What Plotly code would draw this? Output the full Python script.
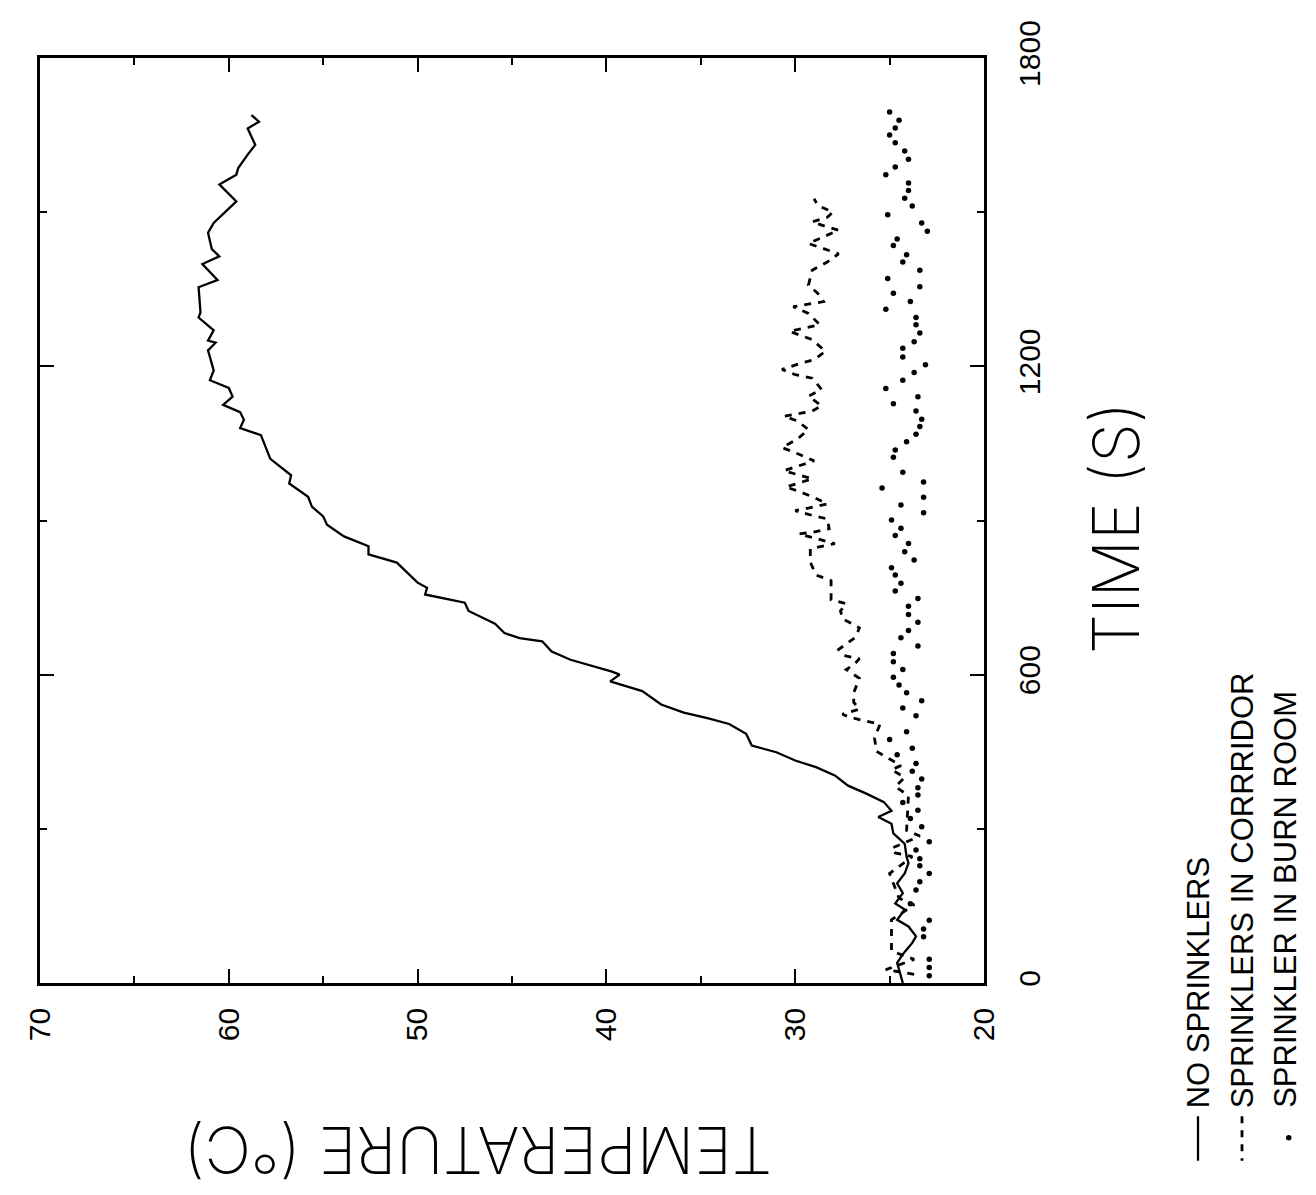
import plotly.graph_objects as go

# ---- data (time in s, temperature in deg C) ----
no_spr_time = [0, 14, 39, 56, 78, 91, 110, 123, 143, 155, 175, 194, 213, 233, 246, 271, 291, 310, 323, 335,
               352, 368, 384, 404, 420, 433, 449, 462, 485, 504, 515, 526, 542, 568, 587, 600, 606, 629, 645,
               665, 671, 681, 699, 724, 740, 756, 769, 779, 818, 834, 850, 869, 892, 908, 927, 946, 972, 988,
               1020, 1066, 1080, 1096, 1111, 1125, 1141, 1158, 1173, 1192, 1231, 1246, 1250, 1270, 1295, 1305,
               1354, 1368, 1399, 1414, 1428, 1460, 1479, 1521, 1554, 1573, 1586, 1612, 1631, 1663, 1676, 1689]
no_spr_temp = [24.3, 24.4, 24.6, 24.3, 23.8, 23.6, 24.0, 24.6, 24.2, 24.7, 24.3, 24.6, 24.2, 24.0, 24.1, 24.2,
               24.8, 24.9, 25.6, 24.9, 25.3, 26.2, 27.2, 27.9, 28.9, 30.0, 31.0, 32.3, 32.6, 33.5, 34.6, 35.9,
               37.1, 38.1, 39.8, 39.3, 39.7, 41.9, 42.9, 43.4, 44.6, 45.4, 45.9, 47.3, 47.5, 49.6, 49.5, 50.0,
               51.1, 52.6, 52.6, 53.9, 54.8, 55.0, 55.6, 55.8, 56.8, 56.7, 57.8, 58.3, 59.4, 59.2, 59.4, 60.3,
               59.8, 60.0, 61.0, 60.8, 61.1, 60.7, 61.1, 60.8, 61.6, 61.5, 61.6, 60.6, 61.4, 60.5, 60.9, 61.1,
               60.8, 59.6, 60.5, 59.6, 59.5, 59.0, 58.6, 59.0, 58.4, 58.8]

corridor_time = [17, 26, 46, 62, 123, 152, 165, 213, 246, 253, 262, 286, 297, 365, 382, 400, 415, 423, 438,
                 451, 477, 504, 510, 517, 523, 533, 546, 565, 593, 610, 619, 631, 637, 649, 673, 691, 709, 724,
                 738, 746, 767, 783, 794, 819, 845, 855, 874, 877, 884, 903, 910, 919, 932, 945, 958, 965, 981,
                 990, 997, 1016, 1029, 1042, 1058, 1077, 1094, 1103, 1113, 1123, 1142, 1155, 1177, 1184, 1194,
                 1206, 1213, 1229, 1252, 1268, 1281, 1303, 1316, 1326, 1342, 1358, 1387, 1403, 1419, 1429, 1439,
                 1465, 1471, 1481, 1490, 1500, 1513, 1526]
corridor_temp = [23.7, 25.2, 23.7, 24.9, 24.9, 23.7, 24.5, 25.0, 23.8, 24.7, 24.9, 23.4, 24.1, 24.0, 24.7,
                 24.2, 24.9, 24.4, 25.1, 25.7, 25.8, 25.5, 26.3, 27.1, 27.5, 26.6, 26.9, 26.9, 26.6, 27.3, 26.9,
                 26.6, 27.4, 27.7, 26.8, 26.6, 27.5, 27.6, 27.3, 28.1, 28.1, 28.1, 28.9, 29.2, 29.2, 27.9, 29.8,
                 29.1, 28.2, 28.3, 29.1, 30.0, 28.3, 29.0, 29.9, 30.5, 29.1, 29.9, 30.6, 29.0, 29.8, 30.7, 29.9,
                 29.3, 29.9, 30.6, 29.1, 28.6, 29.3, 28.6, 29.1, 30.0, 30.7, 29.7, 29.0, 28.4, 29.1, 30.3, 28.7,
                 29.3, 30.1, 28.5, 28.8, 29.3, 29.1, 28.3, 27.7, 28.5, 29.3, 27.7, 28.3, 29.1, 28.3, 28.0, 28.8,
                 29.0]

burn_time = [14, 30, 46, 90, 105, 122, 154, 181, 197, 213, 228, 242, 259, 275, 304, 320, 336, 351, 366, 380,
             397, 412, 427, 444, 457, 474, 489, 520, 535, 549, 565, 580, 595, 610, 625, 641, 656, 672, 686, 702,
             717, 733, 748, 763, 778, 794, 808, 823, 839, 855, 871, 885, 901, 915, 930, 945, 963, 975, 994,
             1023, 1037, 1053, 1068, 1083, 1097, 1113, 1127, 1141, 1157, 1173, 1188, 1203, 1218, 1235, 1248,
             1265, 1281, 1295, 1311, 1326, 1342, 1355, 1371, 1387, 1403, 1417, 1435, 1448, 1463, 1479, 1495,
             1512, 1527, 1542, 1557, 1573, 1588, 1603, 1619, 1635, 1650, 1664, 1679, 1695]
burn_temp = [22.9, 22.9, 22.9, 23.2, 23.2, 22.9, 23.9, 23.6, 23.4, 22.9, 23.4, 23.4, 23.6, 22.9, 23.3, 23.9,
             23.5, 24.3, 23.5, 23.5, 23.3, 23.8, 23.6, 24.6, 23.8, 25.0, 24.1, 23.6, 24.3, 23.3, 24.1, 24.5,
             24.8, 24.3, 24.8, 24.8, 23.5, 24.4, 24.0, 23.5, 24.0, 24.0, 23.5, 24.7, 24.4, 24.7, 24.9, 23.7,
             24.2, 24.0, 24.7, 24.4, 24.9, 23.2, 24.4, 23.2, 25.4, 23.2, 24.3, 24.8, 24.7, 24.1, 23.6, 23.4,
             23.3, 23.6, 24.8, 23.5, 25.2, 24.3, 23.7, 23.1, 24.3, 24.3, 23.7, 23.4, 23.6, 23.6, 25.2, 23.9,
             24.8, 23.4, 25.1, 23.4, 24.3, 24.1, 24.8, 24.6, 23.0, 23.3, 25.1, 23.8, 24.2, 24.0, 24.0, 25.2,
             24.7, 24.0, 24.2, 24.7, 25.0, 24.7, 24.5, 25.0]

temp_ticks = [20, 30, 40, 50, 60, 70]
time_ticks = [0, 600, 1200, 1800]
legend_labels = ["NO SPRINKLERS", "SPRINKLERS IN CORRRIDOR", "SPRINKLER IN BURN ROOM"]

W, H = 1316, 1195
ML, MR, MT, MB = 32, 340, 38, 220
PW, PH = W - ML - MR, H - MT - MB


def px(x):
    return (x - ML) / PW


def py(y):
    return (H - MB - y) / PH


fig = go.Figure()
fig.add_trace(go.Scatter(x=no_spr_temp, y=no_spr_time, mode="lines",
                         line=dict(color="black", width=2.3), name=legend_labels[0]))
fig.add_trace(go.Scatter(x=corridor_temp, y=corridor_time, mode="lines",
                         line=dict(color="black", width=2.8, dash="7px,7px"), name=legend_labels[1]))
fig.add_trace(go.Scatter(x=burn_temp, y=burn_time, mode="markers",
                         marker=dict(color="black", size=5.5), name=legend_labels[2]))

tickfont = dict(family="Liberation Sans, Arial", size=30, color="black")

fig.update_layout(
    width=W, height=H,
    margin=dict(l=ML, r=MR, t=MT, b=MB),
    paper_bgcolor="white", plot_bgcolor="white",
    showlegend=False,
    xaxis=dict(range=[70, 20], tickvals=temp_ticks, ticktext=[str(v) for v in temp_ticks],
               ticks="inside", ticklen=14, tickwidth=2, tickcolor="black",
               minor=dict(dtick=5, ticks="inside", ticklen=7, tickwidth=1.5, tickcolor="black"),
               showline=True, linewidth=2.5, linecolor="black", mirror="ticks",
               showgrid=False, zeroline=False, tickangle=-90, tickfont=tickfont,
               ticklabelstandoff=10),
    yaxis=dict(range=[0, 1800], tickvals=time_ticks, ticktext=[str(v) for v in time_ticks],
               side="right", ticks="inside", ticklen=14, tickwidth=2, tickcolor="black",
               minor=dict(dtick=300, ticks="inside", ticklen=7, tickwidth=1.5, tickcolor="black"),
               showline=True, linewidth=2.5, linecolor="black", mirror="ticks",
               showgrid=False, zeroline=False, tickangle=-90, tickfont=tickfont,
               ticklabelstandoff=17),
)

titlefont = dict(family="Inter, Lato, DejaVu Sans", size=64, color="black", weight=200)
fig.add_annotation(text="TIME (S)", xref="paper", yref="paper", x=px(1108), y=py(514),
                   textangle=-90, showarrow=False, font=titlefont, xanchor="center", yanchor="middle")
fig.add_annotation(text="TEMPERATURE (°C)", xref="paper", yref="paper", x=px(470), y=py(1144),
                   textangle=180, showarrow=False, font=titlefont, xanchor="center", yanchor="middle")

legfont = dict(family="Liberation Sans, Arial", size=31, color="black")
for lx, lab in zip([1190, 1234, 1278], legend_labels):
    fig.add_annotation(text=lab, xref="paper", yref="paper", x=px(lx), y=py(1104),
                       textangle=-90, showarrow=False, font=legfont, xanchor="center", yanchor="bottom")

# legend symbols
fig.add_shape(type="line", xref="paper", yref="paper", x0=px(1190), x1=px(1190), y0=py(1110), y1=py(1155),
              line=dict(color="black", width=2.3))
fig.add_shape(type="line", xref="paper", yref="paper", x0=px(1234), x1=px(1234), y0=py(1110), y1=py(1155),
              line=dict(color="black", width=2.8, dash="7px,7px"))
fig.add_shape(type="circle", xref="paper", yref="paper", x0=px(1278), x1=px(1283.5), y0=py(1129), y1=py(1134.5),
              fillcolor="black", line=dict(color="black", width=0))

fig.write_html("out.html")
